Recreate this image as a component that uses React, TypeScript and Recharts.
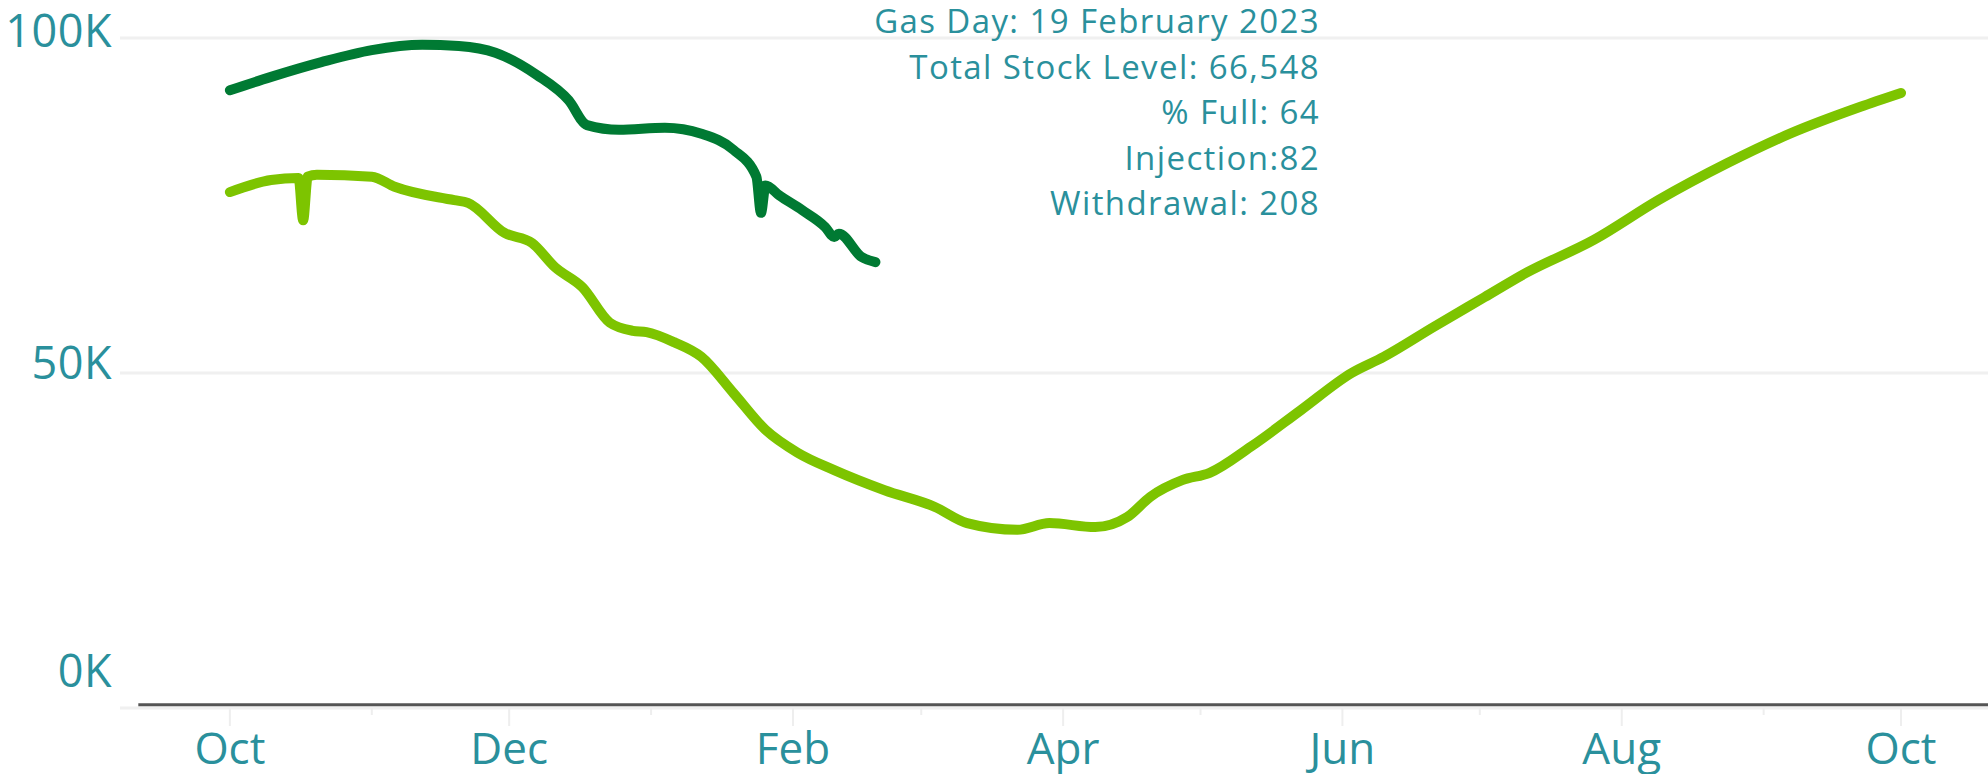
import React from 'react';
import {
  LineChart,
  Line,
  XAxis,
  YAxis,
  CartesianGrid,
  ReferenceLine,
} from 'recharts';

// days since 1 October
const currentDays = [0, 9, 20, 31, 42, 50, 58, 67, 74, 78, 85, 95, 103, 110, 115, 116, 117, 120, 125, 130, 132, 133, 138, 141];
const currentStock = [92200, 94200, 96400, 98200, 99000, 98800, 97800, 94500, 90700, 87000, 86300, 86600, 85700, 83300, 79300, 73900, 78000, 76500, 74300, 71800, 70300, 70800, 67300, 66548];

const previousDays = [0, 9, 15, 16, 17, 19, 31, 36, 49, 52, 60, 66, 71, 77, 83, 88, 91, 97, 103, 110, 117, 124, 132, 143, 154, 161, 172, 179, 189, 196, 201, 208, 214, 223, 234, 245, 252, 263, 274, 283, 298, 312, 327, 341, 356, 365];
const previousStock = [77000, 78800, 79100, 72800, 79300, 79600, 79300, 77800, 75800, 75400, 70900, 69400, 65800, 62800, 57500, 56300, 56100, 54600, 52400, 47000, 41500, 38100, 35500, 32500, 30000, 27600, 26600, 27600, 27000, 28500, 31500, 34000, 35100, 39000, 44500, 50000, 52400, 56900, 61300, 64900, 69900, 75800, 81300, 85800, 89700, 91800];

const monthDays = [0, 31, 61, 92, 123, 151, 182, 212, 243, 273, 304, 335, 365];
const monthLabels = ['Oct', '', 'Dec', '', 'Feb', '', 'Apr', '', 'Jun', '', 'Aug', '', 'Oct'];

const yTicks = [0, 50000, 100000];
const yLabels = ['0K', '50K', '100K'];

const infoLines = [
  'Gas Day: 19 February 2023',
  'Total Stock Level: 66,548',
  '% Full: 64',
  'Injection:82',
  'Withdrawal: 208',
];

const TEXT = '#2a909c';
const FONT = '"Open Sans", Lato, sans-serif';

const currentData = currentDays.map((d, i) => ({ day: d, stock: currentStock[i] }));
const previousData = previousDays.map((d, i) => ({ day: d, stock: previousStock[i] }));

const XTick = (props: any) => {
  const { x, y, payload } = props;
  const idx = monthDays.indexOf(payload.value);
  const label = monthLabels[idx];
  const major = label !== '';
  return (
    <g>
      <line x1={x} x2={x} y1={y} y2={y + (major ? 18 : 7)} stroke="#eeeeee" strokeWidth={2} />
      {major && (
        <text x={x} y={y + 40} dy="0.36em" textAnchor="middle" fill={TEXT} fontSize={44} fontFamily={FONT}>
          {label}
        </text>
      )}
    </g>
  );
};

const YTick = (props: any) => {
  const { x, y, payload } = props;
  const idx = yTicks.indexOf(payload.value);
  const shift = payload.value === 0 ? -37 : payload.value === 50000 ? -10 : -7;
  return (
    <text x={x} y={y + shift} dy="0.36em" textAnchor="end" fill={TEXT} fontSize={45} fontFamily={FONT} letterSpacing={0.5}>
      {yLabels[idx]}
    </text>
  );
};

export default function App() {
  return (
    <div style={{ position: 'absolute', left: 0, top: 0, width: 1988, height: 774, background: '#fff' }}>
      <LineChart width={1988} height={774} margin={{ top: 38, right: 0, bottom: 0, left: 0 }}>
        <CartesianGrid horizontal vertical={false} stroke="#f0f0f0" strokeWidth={3} />
        <XAxis
          type="number"
          dataKey="day"
          domain={[-24, 384]}
          ticks={monthDays}
          interval={0}
          height={66}
          tickSize={0}
          tickMargin={0}
          axisLine={false}
          tickLine={false}
          tick={<XTick />}
          allowDataOverflow
        />
        <YAxis
          type="number"
          domain={[0, 100000]}
          ticks={yTicks}
          width={120}
          tickSize={0}
          tickMargin={8}
          axisLine={false}
          tickLine={false}
          tick={<YTick />}
        />
        <ReferenceLine
          segment={[{ x: -20, y: 500 }, { x: 384, y: 500 }]}
          stroke="#555555"
          strokeWidth={3}
          ifOverflow="visible"
        />
        <Line
          data={previousData}
          dataKey="stock"
          type="monotone"
          stroke="#7dc400"
          strokeWidth={10}
          strokeLinejoin="round"
          strokeLinecap="round"
          dot={false}
          activeDot={false}
          isAnimationActive={false}
        />
        <Line
          data={currentData}
          dataKey="stock"
          type="monotone"
          stroke="#007a33"
          strokeWidth={10}
          strokeLinejoin="round"
          strokeLinecap="round"
          dot={false}
          activeDot={false}
          isAnimationActive={false}
        />
      </LineChart>
      <div
        style={{
          position: 'absolute',
          left: 0,
          top: -2,
          width: 1320,
          textAlign: 'right',
          fontFamily: FONT,
          fontSize: 33,
          letterSpacing: '1.4px',
          lineHeight: '45.5px',
          color: TEXT,
          pointerEvents: 'none',
        }}
      >
        {infoLines.map((t) => (
          <div key={t}>{t}</div>
        ))}
      </div>
    </div>
  );
}
